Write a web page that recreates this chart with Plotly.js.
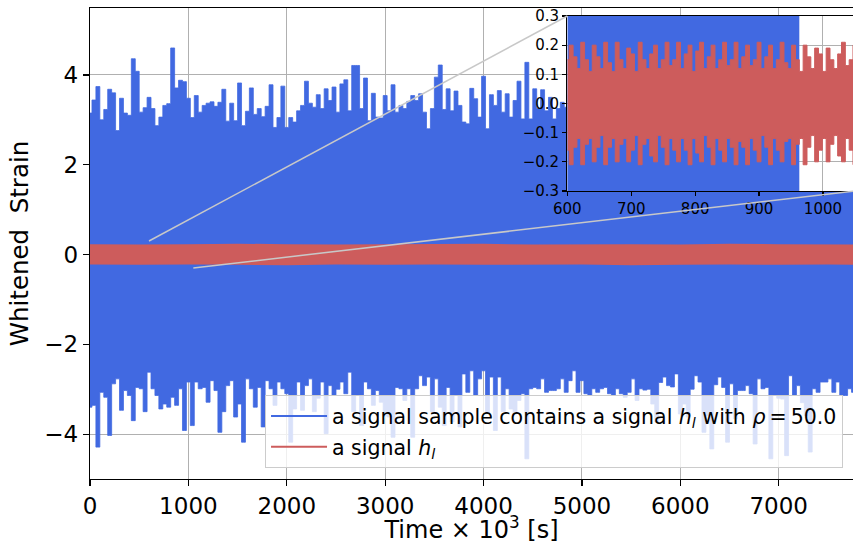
<!DOCTYPE html>
<html><head><meta charset="utf-8">
<script src="https://cdn.plot.ly/plotly-3.0.1.min.js"></script>
<style>html,body{margin:0;padding:0;background:#fff}#chart{width:853px;height:544px}</style>
</head><body><div id="chart"></div>
<script>
// ---- data ----
const noiseStart = 0;      // time of first envelope sample (x10^3 s)
const noiseStep = 40;      // spacing of envelope samples (x10^3 s)
const noiseUpper = [
 3.15,3.44,3.74,3.0,3.23,3.68,3.6,2.76,3.48,3.15,
 3.1,4.36,4.08,3.17,3.27,3.5,3.25,2.87,3.06,3.32,
 3.36,4.6,3.71,3.88,3.85,3.48,3.05,3.54,3.17,3.32,
 3.37,3.4,3.3,3.39,3.68,2.97,3.37,2.98,3.82,2.87,
 3.19,3.71,3.12,3.25,3.07,3.3,3.78,2.83,3.05,3.75,
 2.83,3.05,2.95,3.2,3.32,3.86,3.37,3.28,3.56,3.25,
 3.69,3.43,3.73,3.17,3.8,3.89,3.2,4.21,4.21,3.25,
 3.93,2.98,3.59,3.06,3.04,3.54,3.2,3.78,3.17,3.32,
 3.25,3.41,3.54,3.43,3.58,3.17,2.8,3.25,3.95,4.22,
 3.23,3.69,3.2,3.64,3.32,2.95,2.91,3.7,3.47,3.06,
 3.97,2.8,3.56,3.32,3.65,3.17,3.58,3.06,3.43,3.86,
 3.02,4.28,3.02,3.69,3.25,3.67,3.2,3.5,3.02,3.25,
 3.39,3.28,
 3.55,3.1,3.42,2.95,3.7,3.2,3.33,3.9,3.05,3.26,
 3.48,3.0,3.61,3.15,4.05,3.22,3.38,2.92,3.52,3.18,
 3.74,3.08,3.3,3.46,2.97,3.66,3.21,3.4,3.83,3.04,
 3.29,3.57,3.12,3.44,2.9,3.69,3.24,3.36,4.12,3.1,
 3.5,3.19,3.62,3.03,3.35,3.77,3.16,3.41,2.96,3.58,
 3.27,3.88,3.07,3.45,3.2,3.63,3.01,3.34,3.72,3.14,
 3.49,3.23,3.95,3.06,3.39,3.17,3.6,3.11,3.31,3.54,
 3.2,3.42,3.3
];
const noiseLower = [
 -3.4,-3.36,-4.29,-3.07,-3.18,-4.03,-2.88,-2.77,-3.47,-3.03,
 -3.14,-3.7,-2.96,-2.99,-3.5,-2.62,-2.99,-3.14,-3.44,-3.33,
 -3.4,-3.18,-3.36,-2.99,-3.92,-2.84,-3.81,-2.84,-2.99,-2.96,
 -3.29,-2.81,-3.03,-3.96,-3.5,-2.92,-2.81,-3.62,-3.33,-4.18,
 -2.77,-2.99,-3.4,-2.96,-3.84,-2.81,-2.99,-3.36,-2.84,-2.99,
 -3.1,-4.18,-3.44,-2.84,-3.47,-2.92,-2.77,-3.5,-3.2,-2.84,
 -3.99,-2.92,-3.14,-3.0,-2.84,-3.1,-2.62,-3.5,-3.14,-3.81,
 -2.84,-2.99,-3.36,-3.03,-3.29,-3.59,-3.62,-4.07,-2.96,-2.99,
 -3.25,-2.99,-4.07,-2.99,-2.7,-2.92,-2.73,-3.5,-2.77,-3.4,
 -3.81,-2.96,-3.73,-3.14,-3.84,-2.66,-3.07,-2.59,-3.14,-2.77,
 -2.59,-3.55,-2.73,-3.92,-2.73,-3.5,-2.99,-3.44,-3.55,-3.25,
 -3.1,-4.55,-2.99,-2.96,-2.99,-2.77,-3.07,-3.03,-3.03,-2.99,
 -2.77,-3.07,-2.81,-2.59,-3.07,-2.81,-3.1,-3.14,-2.99,-3.07,
 -2.99,-2.96,-3.1,-3.14,-2.99,-3.1,-3.18,-3.07,-2.77,-3.25,
 -2.99,-3.02,-3.0,-3.33,-3.73,-2.85,-2.73,-2.92,-2.95,-2.66,
 -3.55,-3.33,-3.62,-3.0,-2.7,-2.84,-3.96,-3.59,-4.33,-2.9,
 -2.73,-2.96,-4.18,-2.88,-3.66,-3.03,-3.03,-2.92,-3.1,-4.22,
 -2.77,-2.99,-2.96,-4.55,-3.14,-3.2,-3.22,-4.48,-2.7,-3.14,
 -2.92,-3.3,-3.59,-4.4,-2.99,-3.07,-2.84,-2.84,-2.77,-3.07,
 -2.84,-3.14,-3.14,-2.99,-3.07
];
// signal h_l envelope over the whole record
const bandTime  = [0,500,1000,1500,2000,2500,3000,3500,4000,4500,5000,5500,6000,6500,7000,7500,7800];
const bandUpper = [0.23,0.22,0.23,0.24,0.23,0.22,0.23,0.23,0.24,0.22,0.23,0.23,0.22,0.24,0.23,0.23,0.22];
const bandLower = [-0.22,-0.23,-0.22,-0.23,-0.24,-0.22,-0.23,-0.22,-0.23,-0.23,-0.22,-0.24,-0.23,-0.22,-0.23,-0.22,-0.23];
// signal h_l detail inside the zoom window
const zoomStart = 600, zoomStep = 6;
const zoomUpper = [
 0.15,0.20,0.16,0.12,0.21,0.15,0.11,0.20,0.16,0.12,
 0.21,0.14,0.11,0.21,0.15,0.12,0.19,0.17,0.11,0.21,
 0.15,0.12,0.17,0.20,0.12,0.15,0.21,0.13,0.15,0.21,
 0.12,0.17,0.20,0.11,0.18,0.21,0.12,0.16,0.20,0.12,
 0.15,0.21,0.13,0.15,0.21,0.12,0.16,0.20,0.13,0.15,
 0.21,0.12,0.16,0.20,0.12,0.15,0.21,0.14,0.12,0.20,
 0.15,0.11,0.20,0.16,0.12,0.19,0.17,0.11,0.19,0.15,
 0.12,0.17,0.21,0.13,0.15,0.20
];
const zoomLower = [
 -0.16,-0.21,-0.15,-0.12,-0.21,-0.14,-0.12,-0.20,-0.15,-0.11,
 -0.21,-0.15,-0.12,-0.20,-0.14,-0.12,-0.20,-0.16,-0.11,-0.21,
 -0.14,-0.12,-0.18,-0.20,-0.11,-0.15,-0.21,-0.12,-0.16,-0.20,
 -0.12,-0.16,-0.21,-0.12,-0.17,-0.20,-0.11,-0.15,-0.21,-0.12,
 -0.16,-0.20,-0.12,-0.15,-0.21,-0.13,-0.15,-0.21,-0.12,-0.16,
 -0.20,-0.11,-0.15,-0.21,-0.12,-0.16,-0.20,-0.13,-0.12,-0.21,
 -0.14,-0.12,-0.21,-0.15,-0.11,-0.20,-0.16,-0.12,-0.20,-0.14,
 -0.11,-0.18,-0.20,-0.12,-0.16,-0.21
];
// noisy sample seen inside the zoom window (ends at this time)
const zoomNoiseSpan = [600, 963];
const zoomNoiseLevel = [-3, 3];
// zoom window marked on the main axes
const zoomBoxX = [600, 1050];
const zoomBoxY = [-0.3, 0.3];
// ticks
const xTicks = [0,1000,2000,3000,4000,5000,6000,7000];
const yTicks = [-4,-2,0,2,4];
const insetXTicks = [600,700,800,900,1000];
const insetYTicks = [-0.3,-0.2,-0.1,0.0,0.1,0.2,0.3];
const labelNoise = 'a signal sample contains a signal <i>h<sub>l</sub></i> with <i>ρ</i>\u2009=\u200950.0';
const labelSignal = 'a signal <i>h<sub>l</sub></i>';

// ---- build ----
const noiseTime = noiseUpper.map((_, i) => noiseStart + i * noiseStep);
const zoomTime = zoomUpper.map((_, i) => zoomStart + i * zoomStep);

const BLUE = '#4169E1', RED = '#CD5C5C', GRID = '#b0b0b0';
const FONT = 'DejaVu Sans, sans-serif';

const mainX = [0, 7755], mainY = [-5.0, 5.49];
const insetDomX = [0.6256, 1.0], insetDomY = [0.6115, 0.983];
const insetRangeX = [600, 1047];

const traces = [
  // noisy sample: envelope band
  {x: noiseTime, y: noiseLower, type: 'scatter', mode: 'lines',
   line: {color: BLUE, width: 0.8, shape: 'hvh', simplify: false},
   showlegend: false, xaxis: 'x', yaxis: 'y'},
  {x: noiseTime, y: noiseUpper, type: 'scatter', mode: 'lines', fill: 'tonexty', fillcolor: BLUE,
   line: {color: BLUE, width: 0.8, shape: 'hvh', simplify: false},
   showlegend: false, xaxis: 'x', yaxis: 'y'},
  // signal band
  {x: bandTime.concat(bandTime.slice().reverse()), y: bandUpper.concat(bandLower.slice().reverse()),
   type: 'scatter', mode: 'lines', fill: 'toself', fillcolor: RED, line: {color: RED, width: 0},
   showlegend: false, xaxis: 'x', yaxis: 'y'},
  // legend entries
  {x: [null], y: [null], type: 'scatter', mode: 'lines', line: {color: BLUE, width: 2},
   name: labelNoise, legendgroup: 'a', xaxis: 'x', yaxis: 'y'},
  {x: [null], y: [null], type: 'scatter', mode: 'lines', line: {color: RED, width: 2},
   name: labelSignal, legendgroup: 'b', xaxis: 'x', yaxis: 'y'},
  // inset
  {x: [zoomNoiseSpan[0], zoomNoiseSpan[1], zoomNoiseSpan[1], zoomNoiseSpan[0]],
   y: [zoomNoiseLevel[0], zoomNoiseLevel[0], zoomNoiseLevel[1], zoomNoiseLevel[1]],
   type: 'scatter', mode: 'lines', fill: 'toself', fillcolor: BLUE, line: {color: BLUE, width: 0},
   showlegend: false, xaxis: 'x2', yaxis: 'y2'},
  {x: zoomTime, y: zoomLower, type: 'scatter', mode: 'lines',
   line: {color: RED, width: 1, shape: 'hvh', simplify: false},
   showlegend: false, xaxis: 'x2', yaxis: 'y2'},
  {x: zoomTime, y: zoomUpper, type: 'scatter', mode: 'lines', fill: 'tonexty', fillcolor: RED,
   line: {color: RED, width: 1, shape: 'hvh', simplify: false},
   showlegend: false, xaxis: 'x2', yaxis: 'y2'}
];

// connector lines from zoom box corners to inset corners (in main data coords)
const spanX = mainX[1] - mainX[0], spanY = mainY[1] - mainY[0];
const insetTL = [mainX[0] + insetDomX[0] * spanX, mainY[0] + insetDomY[1] * spanY];
const insetBR = [mainX[0] + insetDomX[1] * spanX + 20, mainY[0] + insetDomY[0] * spanY];
const connColor = 'rgb(200,200,200)';
const shapes = [
  {type: 'line', xref: 'x', yref: 'y', x0: zoomBoxX[0], y0: zoomBoxY[1], x1: insetTL[0], y1: insetTL[1],
   line: {color: connColor, width: 1.5}, layer: 'above'},
  {type: 'line', xref: 'x', yref: 'y', x0: zoomBoxX[1], y0: zoomBoxY[0], x1: insetBR[0], y1: insetBR[1],
   line: {color: connColor, width: 1.5}, layer: 'above'}
];

const axisCommon = {
  showline: true, linecolor: '#000', linewidth: 1.2, ticks: 'outside', tickcolor: '#000',
  tickwidth: 1.2, showgrid: true, gridcolor: GRID, gridwidth: 1, zeroline: false
};

const layout = {
  width: 853, height: 544,
  margin: {l: 90, r: 0, t: 8, b: 65, pad: 0},
  paper_bgcolor: '#fff', plot_bgcolor: '#fff',
  font: {family: FONT, color: '#000'},
  showlegend: true,
  legend: {x: 0.2294, y: 0.178, xanchor: 'left', yanchor: 'top',
    bgcolor: 'rgba(255,255,255,0.8)', bordercolor: '#cccccc', borderwidth: 1,
    font: {size: 20.5, family: FONT}, traceorder: 'grouped', tracegroupgap: 1, itemwidth: 56},
  xaxis: Object.assign({}, axisCommon, {
    domain: [0, 1], range: mainX, tickvals: xTicks, ticklen: 6, mirror: true,
    tickfont: {size: 23}, anchor: 'y',
    title: {text: 'Time × 10<sup>3</sup> [s]', font: {size: 24}, standoff: 11}
  }),
  yaxis: Object.assign({}, axisCommon, {
    domain: [0, 1], range: mainY, tickvals: yTicks, ticklen: 6, mirror: false,
    tickfont: {size: 23}, anchor: 'x',
    title: {text: 'Whitened\u00a0 Strain', font: {size: 24.5}, standoff: 8}
  }),
  xaxis2: Object.assign({}, axisCommon, {
    domain: insetDomX, range: insetRangeX, tickvals: insetXTicks, ticklen: 4, mirror: true,
    tickfont: {size: 15}, anchor: 'y2', linewidth: 1.2
  }),
  yaxis2: Object.assign({}, axisCommon, {
    domain: insetDomY, range: [-0.3, 0.3], tickvals: insetYTicks, tickformat: '.1f', ticklen: 4, mirror: true,
    tickfont: {size: 15}, anchor: 'x2', linewidth: 1.2
  }),
  shapes: shapes
};

Plotly.newPlot('chart', traces, layout, {displayModeBar: false, staticPlot: true});
</script>
</body></html>
